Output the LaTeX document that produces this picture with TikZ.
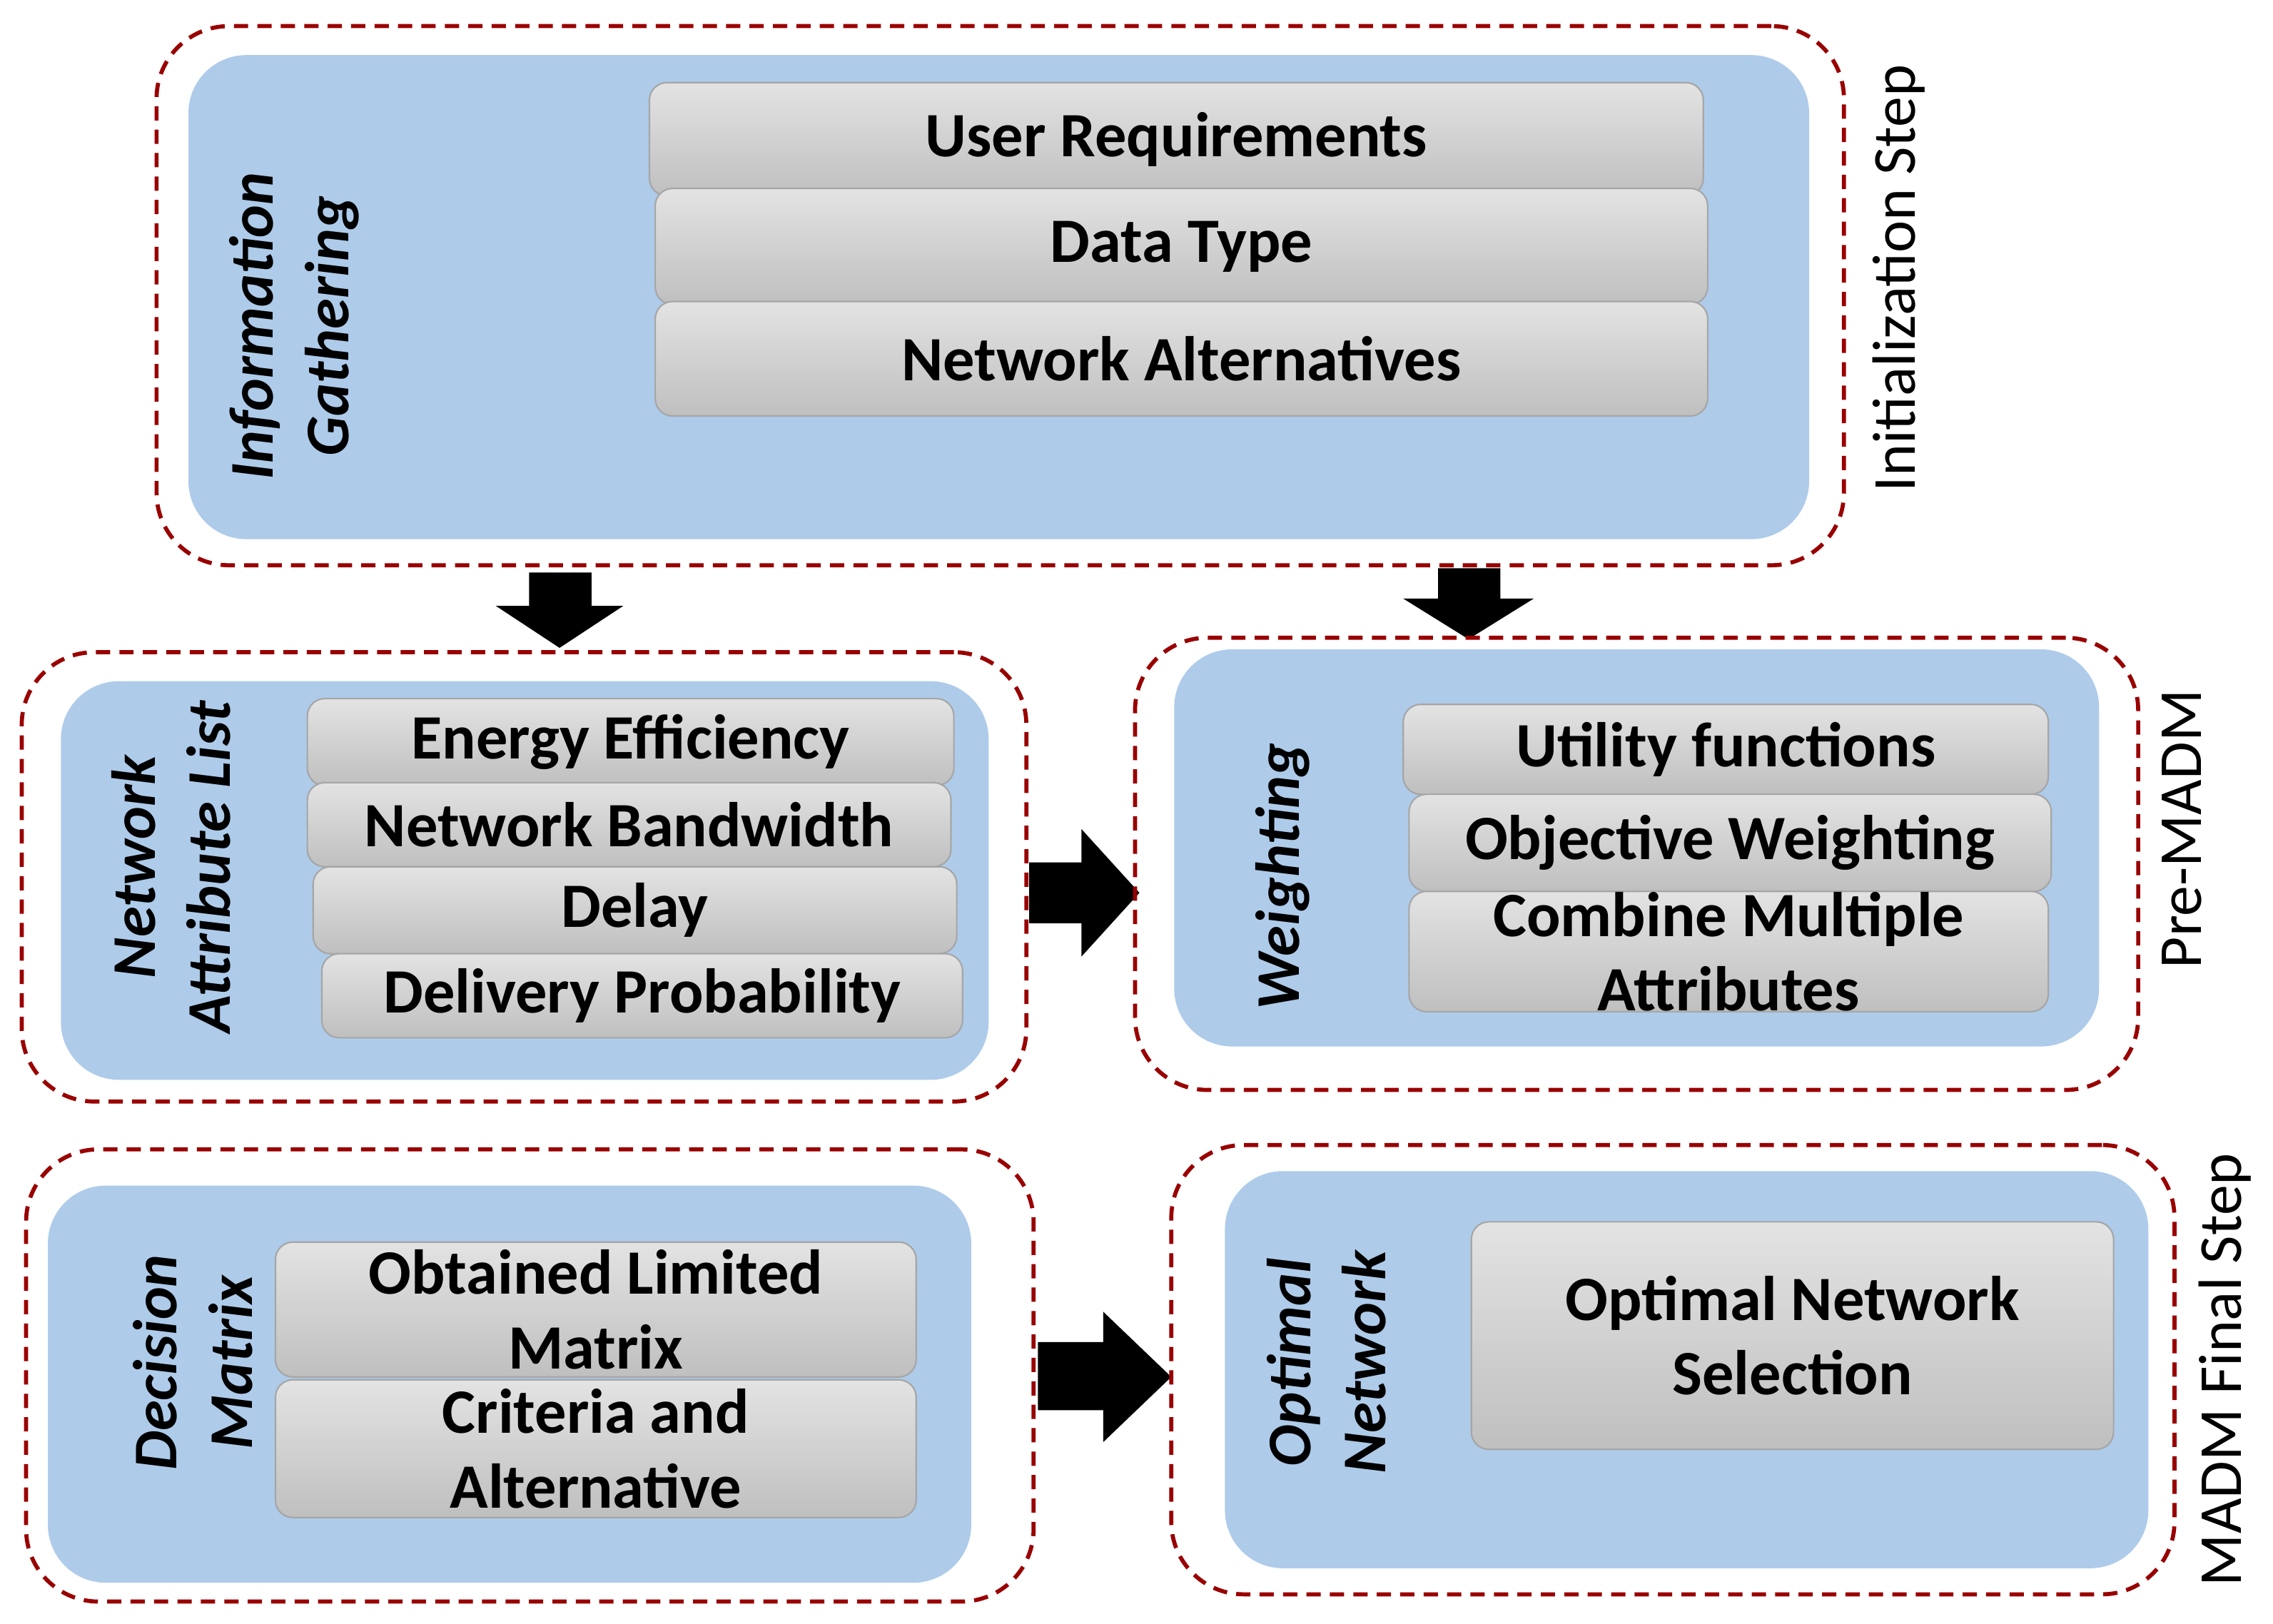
\documentclass[tikz,border=0pt]{standalone}
\usepackage{fontspec}
\setmainfont{Carlito}
\begin{document}
\begin{tikzpicture}[x=0.05cm,y=-0.05cm,
 dbox/.style={draw=red!60!black,line width=4pt,dash pattern=on 14pt off 9pt,rounded corners=2.5cm},
 bbox/.style={draw=none,rounded corners=2cm},
 gbox/.style={draw=gray!70,line width=1.5pt,top color=gray!22,bottom color=gray!50,rounded corners=0.6cm},
 lab/.style={font=\fontsize{62}{73}\selectfont\bfseries,align=center},
 vlab/.style={font=\fontsize{61}{74}\selectfont\bfseries\itshape,align=center,rotate=90},
 slab/.style={font=\fontsize{60}{72}\selectfont,rotate=90},
 barrow/.style={fill=black}]
\definecolor{bl}{HTML}{AECBEA}
\tikzset{bbox/.append style={fill=bl}}
\useasboundingbox (0,0) rectangle (1568,1120);
\newcommand\bx[6]{\node[#6,inner sep=0,minimum width={(#4-#2)*0.05cm},minimum height={(#5-#3)*0.05cm}] (#1) at ({(#2+#4)/2},{(#3+#5)/2}) {};}
% box 1
\bx{d1}{108}{18}{1272}{390}{dbox}
\bx{b1}{130}{38}{1248}{372}{bbox}
\bx{g11}{448}{57}{1175}{135}{gbox}
\bx{g12}{452}{130}{1178}{210}{gbox}
\bx{g13}{452}{208}{1178}{287}{gbox}
\node[lab] at (g11) {User Requirements};
\node[lab] at (g12) {Data Type};
\node[lab] at (g13) {Network Alternatives};
\node[vlab] (t1) at (203,225) {Information\\Gathering};
\node[slab] (s1) at (1310,192) {Initialization Step};
% down arrows
\fill[barrow] (365,395) -- (408,395) -- (408,418) -- (430,418) -- (386,447) -- (342,418) -- (365,418) -- cycle;
\fill[barrow] (992,392) -- (1035,392) -- (1035,413) -- (1058,413) -- (1013,441) -- (968,413) -- (992,413) -- cycle;
% box 2
\bx{d2}{15}{450}{708}{760}{dbox}
\bx{b2}{42}{470}{682}{745}{bbox}
\bx{g21}{212}{482}{658}{542}{gbox}
\bx{g22}{212}{540}{656}{598}{gbox}
\bx{g23}{216}{598}{660}{658}{gbox}
\bx{g24}{222}{658}{664}{716}{gbox}
\node[lab] at (g21) {Energy Efficiency};
\node[lab] at (g22) {Network Bandwidth};
\node[lab] at (g23) {Delay};
\node[lab] at (g24) {Delivery Probability};
\node[vlab] (t2) at (118,598) {Network\\Attribute List};
% right arrow 1
\fill[barrow] (710,595) -- (746,595) -- (746,572) -- (786,616) -- (746,660) -- (746,637) -- (710,637) -- cycle;
% box 3
\bx{d3}{783}{440}{1475}{752}{dbox}
\bx{b3}{810}{448}{1448}{722}{bbox}
\bx{g31}{968}{486}{1413}{548}{gbox}
\bx{g32}{972}{548}{1415}{615}{gbox}
\bx{g33}{972}{615}{1413}{698}{gbox}
\node[lab] at (g31) {Utility functions};
\node[lab] at (g32) {Objective Weighting};
\node[lab] at (g33) {Combine  Multiple\\Attributes};
\node[vlab] (t3) at (885,605) {Weighting};
\node[slab] (s3) at (1505,572) {Pre-MADM};
% box 4
\bx{d4}{18}{793}{713}{1105}{dbox}
\bx{b4}{33}{818}{670}{1092}{bbox}
\bx{g41}{190}{857}{632}{950}{gbox}
\bx{g42}{190}{952}{632}{1047}{gbox}
\node[lab] at (g41) {Obtained Limited\\Matrix};
\node[lab] at (g42) {Criteria and\\Alternative};
\node[vlab] (t4) at (133,940) {Decision\\Matrix};
% right arrow 2
\fill[barrow] (716,926) -- (761,926) -- (761,905) -- (808,950) -- (761,995) -- (761,973) -- (716,973) -- cycle;
% box 5
\bx{d5}{808}{790}{1500}{1100}{dbox}
\bx{b5}{845}{808}{1482}{1082}{bbox}
\bx{g51}{1015}{843}{1458}{1000}{gbox}
\node[lab] at (g51) {Optimal Network\\Selection};
\node[vlab] (t5) at (915,940) {Optimal\\Network};
\node[slab] (s5) at (1535,945) {MADM Final Step};
\end{tikzpicture}
\end{document}
